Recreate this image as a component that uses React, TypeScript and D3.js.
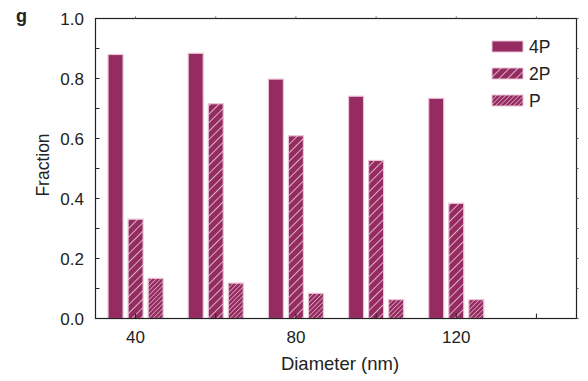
import React from "react";
import * as d3 from "d3";

const diameters = [40, 60, 80, 100, 120];
const series = ["4P", "2P", "P"];
const frac4P = [0.88, 0.884, 0.798, 0.741, 0.734];
const frac2P = [0.331, 0.716, 0.609, 0.527, 0.384];
const fracP = [0.134, 0.118, 0.084, 0.063, 0.063];
const xTicks = [40, 60, 80, 100, 120, 140];
const xLabels = [40, 80, 120];
const yTicks = [0, 0.2, 0.4, 0.6, 0.8, 1.0];

const W = 588;
const H = 381;
const purple = "#952b60";
const edge = "#e9c4d7";
const font = "'Liberation Sans', Arial, sans-serif";

export default function App() {
  const x = d3.scaleLinear().domain([30, 150]).range([95.5, 576.5]);
  const y = d3.scaleLinear().domain([0, 1]).range([318.5, 18.5]);
  const values = [frac4P, frac2P, fracP];
  const fills = [purple, "url(#hatch2)", "url(#hatch1)"];
  const offsets = [-5, 0, 5];
  const bw = 15;
  const minorY = d3.range(0, 1.001, 0.1);

  return (
    <svg width={W} height={H} style={{ position: "absolute", left: 0, top: 0 }}>
      <defs>
        <pattern id="hatch2" patternUnits="userSpaceOnUse" width="6" height="6" patternTransform="rotate(45)">
          <rect width="6" height="6" fill={purple} />
          <line x1="0" y1="0" x2="0" y2="6" stroke="#fff" strokeWidth="1.3" />
        </pattern>
        <pattern id="hatch1" patternUnits="userSpaceOnUse" width="3.2" height="3.2" patternTransform="rotate(45)">
          <rect width="3.2" height="3.2" fill={purple} />
          <line x1="0" y1="0" x2="0" y2="3.2" stroke="#f4dde8" strokeWidth="1.1" />
        </pattern>
      </defs>

      <text x={16} y={22} fontFamily={font} fontWeight="bold" fontSize={18} fill="#222">g</text>

      {values.map((vals, si) =>
        vals.map((v, i) => {
          const cx = x(diameters[i] + offsets[si]);
          return (
            <rect
              key={`${si}-${i}`}
              x={cx - bw / 2}
              y={y(v)}
              width={bw}
              height={y(0) - y(v)}
              fill={fills[si]}
              stroke={edge}
              strokeWidth={1.2}
            />
          );
        })
      )}

      {/* frame */}
      <rect x={95.5} y={18.5} width={481} height={300} fill="none" stroke="#222" strokeWidth={1.2} />

      {/* y ticks */}
      {minorY.map((t, i) => (
        <g key={`y${i}`}>
          <line x1={95.5} x2={99.5} y1={y(t)} y2={y(t)} stroke="#222" />
          <line x1={576.5} x2={578.5} y1={y(t)} y2={y(t)} stroke="#555" />
        </g>
      ))}
      {yTicks.map((t) => (
        <text key={`yl${t}`} x={84} y={y(t) + 6.5} textAnchor="end" fontFamily={font} fontSize={17} fill="#222">
          {t.toFixed(1)}
        </text>
      ))}

      {/* x ticks */}
      {xTicks.map((t) => (
        <g key={`x${t}`}>
          <line x1={x(t)} x2={x(t)} y1={318.5} y2={313.5} stroke="#222" />
          <line x1={x(t)} x2={x(t)} y1={18.5} y2={16.5} stroke="#555" />
        </g>
      ))}
      {xLabels.map((t) => (
        <text key={`xl${t}`} x={x(t)} y={343} textAnchor="middle" fontFamily={font} fontSize={17} fill="#222">
          {t}
        </text>
      ))}

      <text x={340} y={370} textAnchor="middle" fontFamily={font} fontSize={18.5} fill="#222">
        Diameter (nm)
      </text>
      <text
        transform={`translate(49,165) rotate(-90)`}
        textAnchor="middle"
        fontFamily={font}
        fontSize={17.5}
        fill="#222"
      >
        Fraction
      </text>

      {/* legend */}
      {series.map((s, i) => (
        <g key={s} transform={`translate(492,${41 + i * 27})`}>
          <rect x={0} y={0} width={31} height={11} fill={fills[i]} stroke={edge} strokeWidth={1} />
          <text x={37} y={11.5} fontFamily={font} fontSize={17.5} fill="#222">{s}</text>
        </g>
      ))}
    </svg>
  );
}
